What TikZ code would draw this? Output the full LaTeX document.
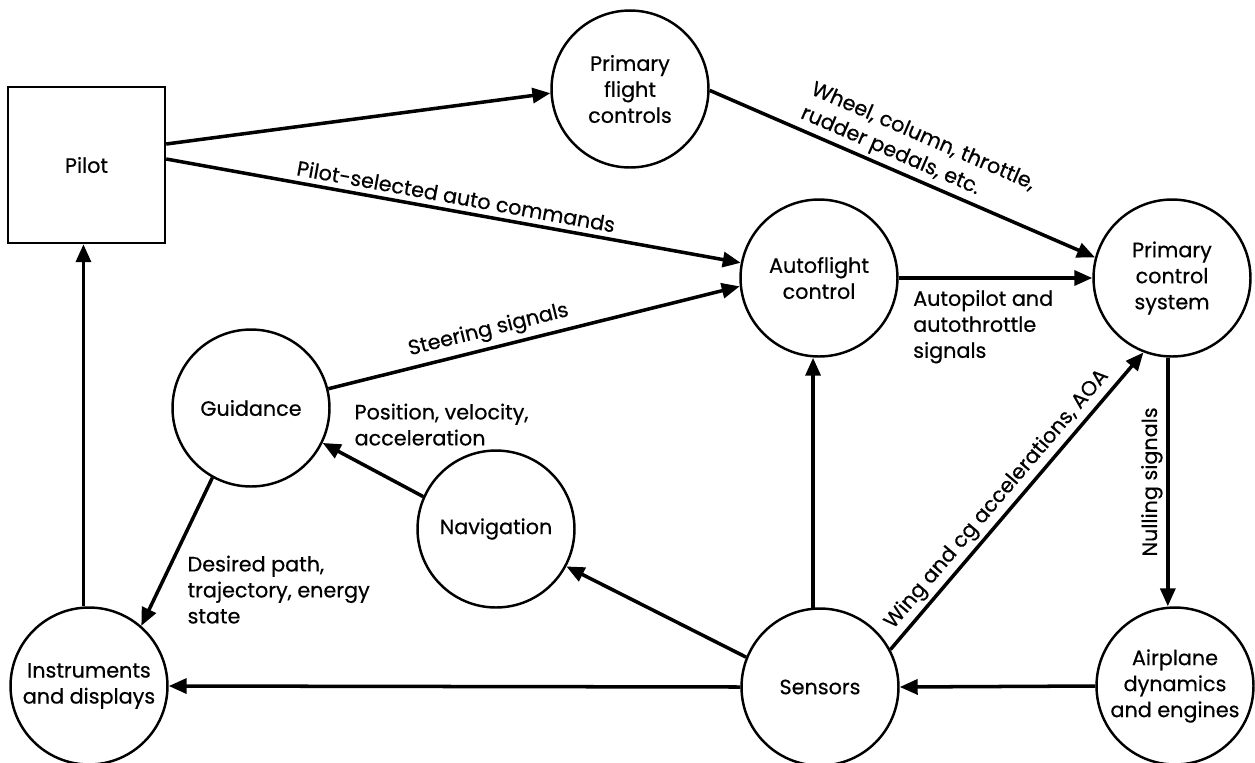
\documentclass[tikz,border=0pt]{standalone}
\usepackage{fontspec}
\setmainfont{Poppins}[FakeBold=0.5]
\usetikzlibrary{arrows.meta}
\begin{document}
\begin{tikzpicture}[x=0.02cm,y=-0.02cm,
  every node/.style={font=\fontsize{11.8}{14.8}\selectfont},
  unit/.style={draw, circle, line width=1.4pt, minimum size=3.14cm, inner sep=0pt, align=center},
  box/.style={draw, rectangle, line width=1.4pt, minimum width=3.14cm, minimum height=3.12cm},
  flow/.style={line width=2pt, -{Triangle[length=0.36cm,width=0.3cm]}},
  lbl/.style={inner sep=3pt}
]
\useasboundingbox (0,0) rectangle (1255,762);

% blocks
\node[box]  (pilot) at (86.5,165) {Pilot};
\node[unit] (pfc)   at (630,89)   {Primary\\flight\\controls};
\node[unit] (afc)   at (819,278)  {Autoflight\\control};
\node[unit] (pcs)   at (1172,278) {Primary\\control\\system};
\node[unit] (gui)   at (251,408)  {Guidance};
\node[unit] (nav)   at (496,529)  {Navigation};
\node[unit] (inst)  at (89,686)   {Instruments\\and displays};
\node[unit] (sens)  at (820,687)  {Sensors};
\node[unit] (air)   at (1175,686) {Airplane\\dynamics\\and engines};

% signal flow
\draw[flow] ([yshift=0.42cm]pilot.east) -- (pfc.183);
\draw[flow] ([yshift=0.12cm]pilot.east) -- node[lbl, sloped, above, pos=0.5] {Pilot-selected auto commands} (afc.169);
\draw[flow] (pfc.-1) -- node[lbl, sloped, above, pos=0.51, align=left, inner sep=2pt] {Wheel, column, throttle,\\rudder pedals, etc.} (pcs.165);
\draw[flow] (afc.east) -- node[lbl, pos=0, anchor=north west, xshift=0.15cm, yshift=-0.1cm, align=left] {Autopilot and\\autothrottle\\signals} (pcs.west);
\draw[flow] (gui.14) -- node[lbl, sloped, above, pos=0.40] {Steering signals} (afc.186);
\draw[flow] (nav.156) -- (gui.-26);
\draw[flow] (gui.241.5) -- (inst.49);
\draw[flow] (inst.94) -- (inst.94 |- pilot.south);
\draw[flow] (sens.west) -- (inst.east);
\draw[flow] (air.west) -- (sens.east);
\draw[flow] (sens.158) -- (nav.-28);
\draw[flow] (sens.95) -- (sens.95 |- afc.south);
\draw[flow] (sens.28) -- node[lbl, sloped, above, pos=0.47, inner sep=2pt] {Wing and cg accelerations, AOA} (pcs.249);
\draw[flow] (pcs.267) -- node[lbl, midway, rotate=90, anchor=south, inner sep=2pt] {Nulling signals} (pcs.267 |- air.north);

% free labels
\node[lbl, anchor=north west, align=left] (posvel) at (349,398) {Position, velocity,\\acceleration};
\node[lbl, anchor=north west, align=left] (despath) at (182,550) {Desired path,\\trajectory, energy\\state};
\end{tikzpicture}
\end{document}
